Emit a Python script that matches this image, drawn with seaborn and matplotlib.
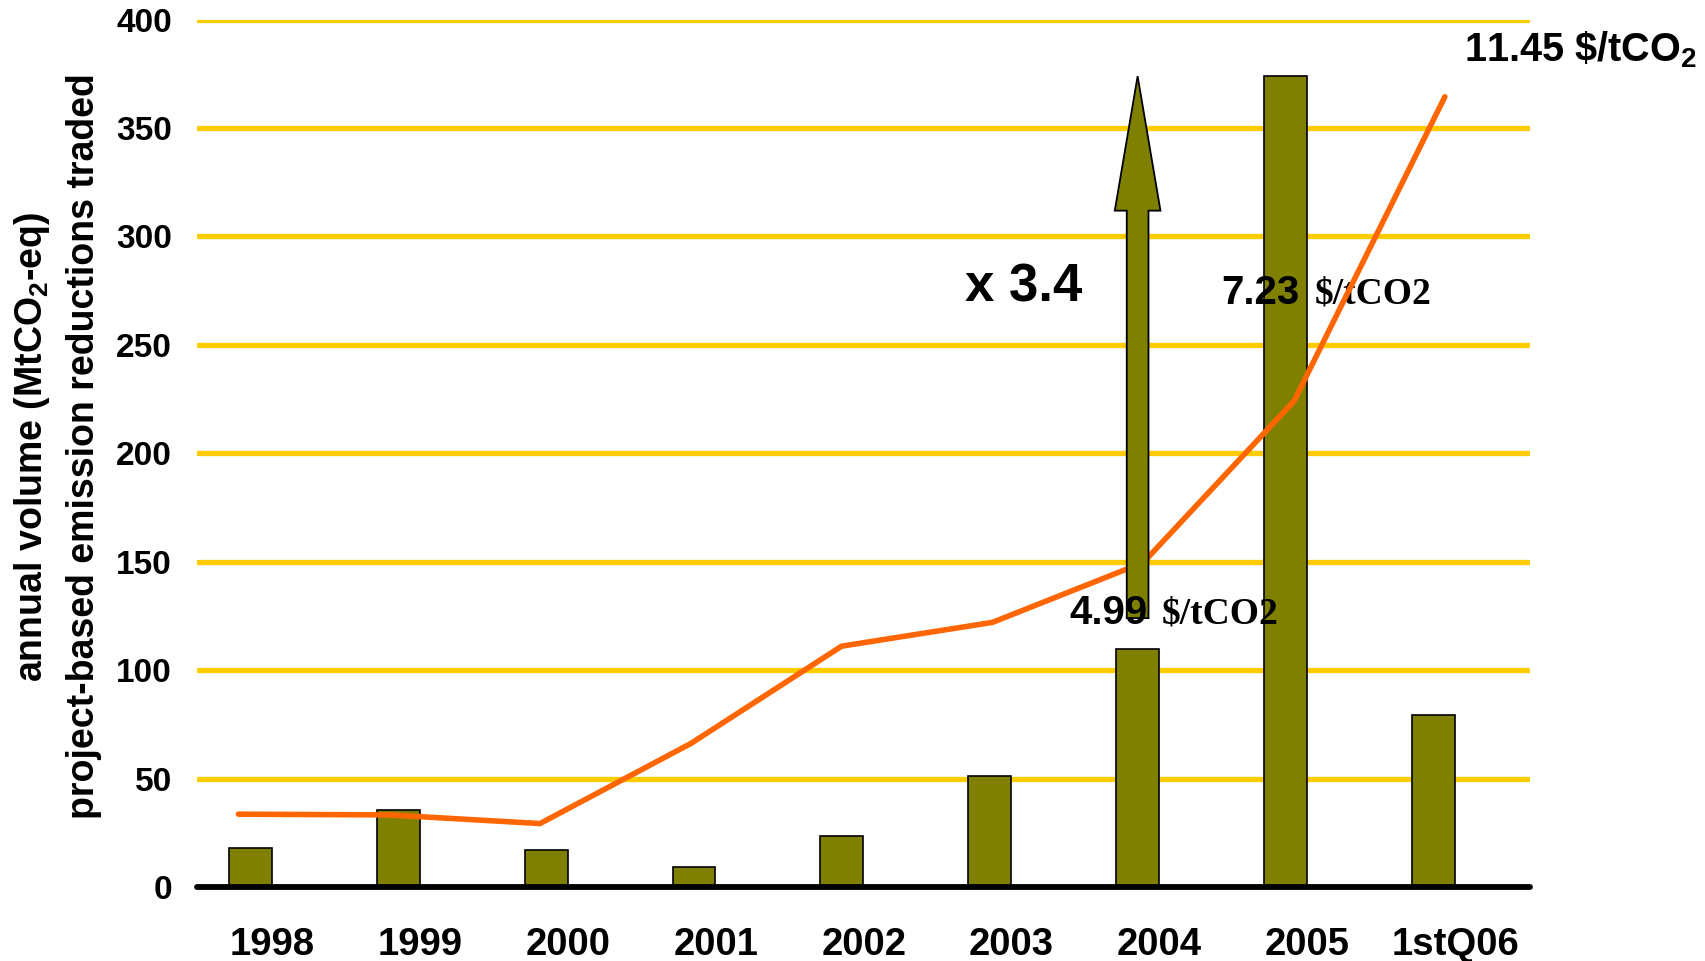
import numpy as np
import pandas as pd
import matplotlib
matplotlib.use("Agg")
import matplotlib.pyplot as plt
import matplotlib.transforms as mtransforms
from matplotlib.patches import FancyArrow
import seaborn as sns

# Annual traded volume of project-based emission reductions (MtCO2-eq)
periods = ["1998", "1999", "2000", "2001", "2002", "2003", "2004", "2005", "1stQ06"]
volume = [18.1, 35.6, 17.1, 9.0, 23.6, 51.2, 109.9, 373.9, 79.3]
# Average price ($/tCO2), plotted on its own hidden scale
price = [1.50, 1.49, 1.37, 2.48, 3.83, 4.16, 4.99, 7.23, 11.45]
volume_ticks = [0, 50, 100, 150, 200, 250, 300, 350, 400]

OLIVE = "#808000"
ORANGE = "#FF6600"
GOLD = "#FFCC00"

sns.set_theme(style="white")
plt.rcParams["font.family"] = ["Liberation Sans", "DejaVu Sans"]
plt.rcParams["font.weight"] = "bold"
plt.rcParams["text.color"] = "black"
plt.rcParams["axes.labelcolor"] = "black"
plt.rcParams["xtick.color"] = "black"
plt.rcParams["ytick.color"] = "black"
plt.rcParams["mathtext.fontset"] = "custom"
plt.rcParams["mathtext.rm"] = "Liberation Sans:bold"
plt.rcParams["mathtext.bf"] = "Liberation Sans:bold"
plt.rcParams["mathtext.it"] = "Liberation Sans:bold"

df = pd.DataFrame({"period": periods, "volume": volume, "price": price})

fig = plt.figure(figsize=(17.06, 9.61), dpi=100)
pos = [0.1155, 0.077, 0.7813, 0.9026]
ax = fig.add_axes(pos)

sns.barplot(data=df, x="period", y="volume", ax=ax, color=OLIVE, width=0.29,
            edgecolor="black", linewidth=1.2, saturation=1, zorder=2)
for p in ax.patches:
    p.set_facecolor(OLIVE)

ax.set_xlim(-0.3606, 8.653)
ax.set_ylim(0, 400)
ax.set_yticks(volume_ticks)
ax.yaxis.grid(True, color=GOLD, linewidth=3.8, zorder=0)
ax.xaxis.grid(False)
ax.set_axisbelow(True)
for side in ["left", "right", "top"]:
    ax.spines[side].set_visible(False)
ax.spines["bottom"].set_color("black")
ax.spines["bottom"].set_linewidth(4.2)
ax.spines["bottom"].set_capstyle("round")
ax.spines["bottom"].set_zorder(3)
ax.tick_params(axis="both", length=0, colors="black")
ax.tick_params(axis="y", labelsize=24, pad=18)
ax.tick_params(axis="x", labelsize=27.5, pad=29)
for lab in ax.get_xticklabels() + ax.get_yticklabels():
    lab.set_fontweight("bold")
    lab.set_color("black")
# category labels sit slightly right of their bars
shift = mtransforms.ScaledTranslation(0.218, 0, fig.dpi_scale_trans)
for lab in ax.get_xticklabels():
    lab.set_transform(lab.get_transform() + shift)
ax.set_xlabel("")
ax.set_ylabel("annual volume (MtCO$_2$-eq)\nproject-based emission reductions traded",
              fontsize=27, fontweight="bold", linespacing=1.5, color="black")
ax.yaxis.set_label_coords(-0.0715, 0.508)

# Price line on an overlaid axes with its own scale
ax2 = fig.add_axes(pos, frameon=False)
sns.lineplot(x=np.arange(len(price)), y=price, ax=ax2, color=ORANGE,
             linewidth=4.0, solid_capstyle="round", zorder=2)
ax2.set_axis_off()

# Growth arrow 2004 -> 2005
arrow = FancyArrow(6, 124, 0, volume[7] - 124, width=0.147, head_width=0.309,
                   head_length=62, length_includes_head=True,
                   facecolor=OLIVE, edgecolor="black", linewidth=1.3,
                   transform=ax.transData, zorder=3)
ax2.add_patch(arrow)
ax2.set_xlim(-0.274, 8.564)
ax2.set_ylim(0.49, 12.52)

serif = ["Liberation Serif", "DejaVu Serif"]
ax2.text(4.834, 270, "x 3.4", transform=ax.transData, fontsize=38,
         fontweight="bold", va="baseline", ha="left", zorder=5)
ax2.text(6.564, 269, f"{price[7]:.2f}", transform=ax.transData, fontsize=29,
         fontweight="bold", va="baseline", ha="left", zorder=1)
ax2.text(7.197, 269, "$/tCO2", transform=ax.transData, fontsize=27,
         family=serif, fontweight="bold", va="baseline", ha="left", zorder=1)
ax2.text(5.541, 121.5, f"{price[6]:.2f}", transform=ax.transData, fontsize=29,
         fontweight="bold", va="baseline", ha="left", zorder=5)
ax2.text(6.166, 121.5, "$/tCO2", transform=ax.transData, fontsize=27,
         family=serif, fontweight="bold", va="baseline", ha="left", zorder=5)
ax2.text(8.205, 380.5, f"{price[8]:.2f} \\$/tCO$_2$", transform=ax.transData,
         fontsize=28.5, fontweight="bold", va="baseline", ha="left",
         zorder=5, clip_on=False)

fig.savefig("out.png", dpi=100)
